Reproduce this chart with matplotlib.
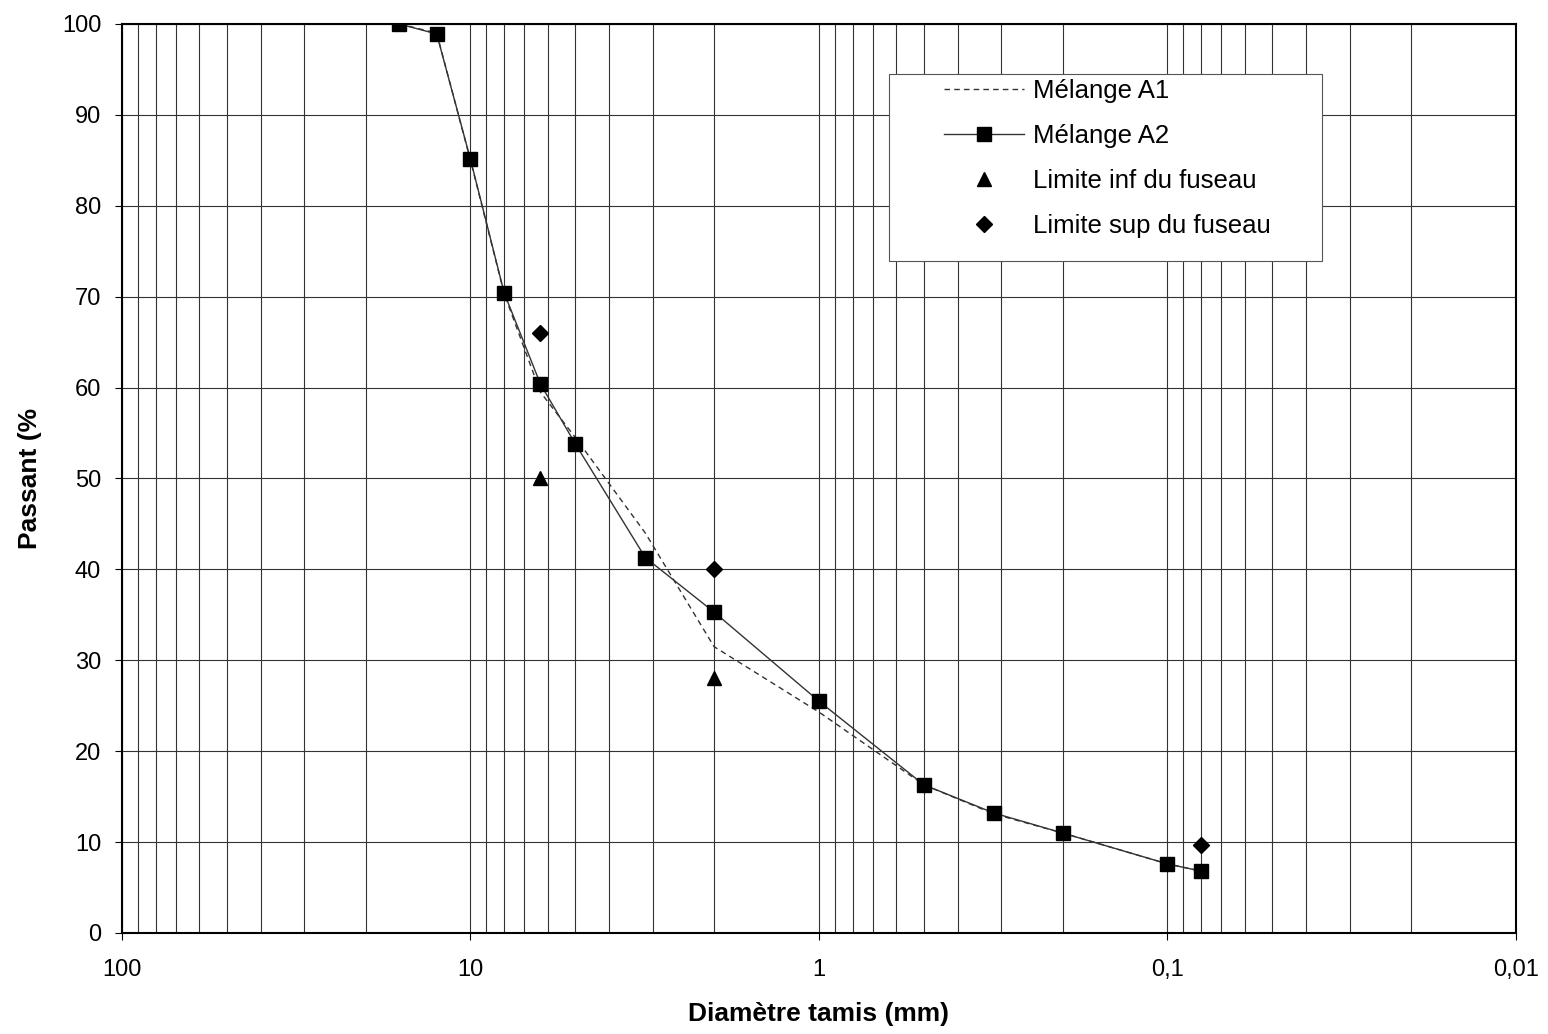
import matplotlib.pyplot as plt
from matplotlib.patches import Rectangle
from matplotlib.ticker import FixedLocator, LogLocator, NullFormatter, FuncFormatter

plt.rcParams['font.family'] = ['Liberation Sans', 'DejaVu Sans']

# Tamis (mm)
tamis = [16, 12.5, 10, 8, 6.3, 5, 3.15, 2, 1, 0.5, 0.315, 0.2, 0.1, 0.08]
melange_a1 = [100, 99, 85, 70.3, 59.5, 54.5, 44, 31.5, 24.3, 16.3, 13.1, 11, 7.6, 6.8]
melange_a2 = [100, 98.9, 85.1, 70.4, 60.4, 53.8, 41.3, 35.3, 25.5, 16.3, 13.2, 11.0, 7.6, 6.8]

fuseau_inf_x = [6.3, 2]
fuseau_inf_y = [50, 28]
fuseau_sup_x = [6.3, 2, 0.08]
fuseau_sup_y = [66, 40, 9.7]

x_ticks = [100, 10, 1, 0.1, 0.01]


def comma_formatter(x, pos):
    return "{:g}".format(x).replace('.', ',')


fig = plt.figure(figsize=(15.48, 10.34), dpi=100)
ax = fig.add_axes([0.0788, 0.0977, 0.9005, 0.8791])

ax.plot(tamis, melange_a1, color='#333333', linestyle=(0, (4, 3)), linewidth=1.0,
        label='Mélange A1')
ax.plot(tamis, melange_a2, color='#333333', linestyle='-', linewidth=1.0,
        marker='s', markersize=10, markerfacecolor='black', markeredgecolor='black',
        label='Mélange A2')
ax.plot(fuseau_inf_x, fuseau_inf_y, linestyle='none', marker='^', markersize=10,
        color='black', label='Limite inf du fuseau')
ax.plot(fuseau_sup_x, fuseau_sup_y, linestyle='none', marker='D', markersize=8,
        color='black', label='Limite sup du fuseau')

ax.set_xscale('log')
ax.set_xlim(100, 0.01)
ax.set_ylim(0, 100)

ax.xaxis.set_major_locator(FixedLocator(x_ticks))
ax.xaxis.set_major_formatter(FuncFormatter(comma_formatter))
ax.xaxis.set_minor_locator(LogLocator(base=10, subs=range(2, 10), numticks=20))
ax.xaxis.set_minor_formatter(NullFormatter())
ax.set_yticks(range(0, 101, 10))

ax.grid(True, which='both', axis='x', color='#333333', linewidth=0.8)
ax.grid(True, which='major', axis='y', color='#333333', linewidth=0.8)
ax.tick_params(axis='both', which='major', labelsize=17, length=5, direction='out')
ax.tick_params(axis='x', which='major', pad=14)
ax.tick_params(axis='y', which='major', pad=10)
ax.tick_params(axis='x', which='minor', length=0)

for s in ax.spines.values():
    s.set_linewidth(1.5)
    s.set_color('black')

ax.set_xlabel('Diamètre tamis (mm)', fontsize=19, fontweight='bold', labelpad=15)
ax.set_ylabel('Passant (%', fontsize=19, fontweight='bold', labelpad=14)

# legend frame drawn separately (wide left margin as in the original)
ax.add_patch(Rectangle((0.5502, 0.7393), 0.3106, 0.2057, transform=ax.transAxes,
                       facecolor='white', edgecolor='#555555', linewidth=0.8, zorder=4))
leg = ax.legend(loc='upper left', bbox_to_anchor=(0.590, 0.940), fontsize=18.5,
                frameon=False, handlelength=3.1, borderpad=0, labelspacing=0.82,
                handletextpad=0.35, borderaxespad=0)
leg.set_zorder(5)

fig.savefig('out.png', dpi=100)
